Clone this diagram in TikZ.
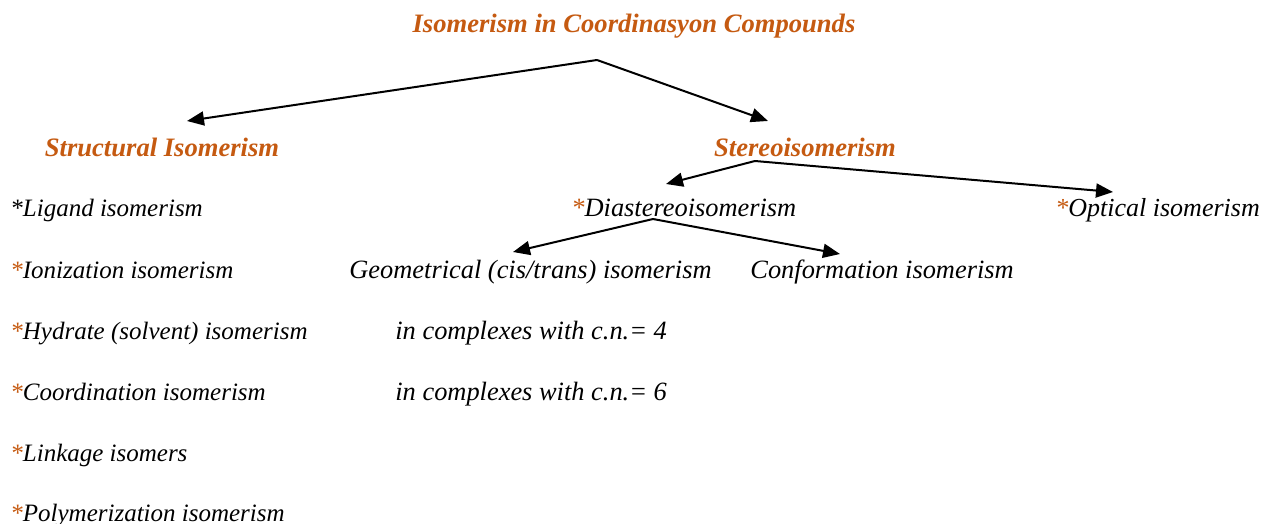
\documentclass[tikz,border=0pt]{standalone}
\usepackage{fontspec}
\setmainfont{Liberation Serif}
\usetikzlibrary{arrows.meta}
\definecolor{orng}{HTML}{C55A11}
\newcommand{\ostar}{{\color{orng}*}}
\begin{document}
\begin{tikzpicture}[x=0.5pt,y=-0.5pt,
  lbl/.style={inner sep=0pt,anchor=base west,font=\fontsize{12.5}{14}\selectfont\itshape},
  rlbl/.style={lbl,font=\fontsize{13.2}{15}\selectfont\itshape},
  head/.style={inner sep=0pt,anchor=base,text=orng,font=\fontsize{13.3}{15}\selectfont\bfseries\itshape},
  conn/.style={line width=1pt,-{Triangle[length=8.5pt,width=7pt]}}]
\useasboundingbox (0,0) rectangle (1263,524);
% headings
\node[head] (title) at (634,33) {Isomerism in Coordinasyon Compounds};
\node[head] (struct) at (162,156) {Structural Isomerism};
\node[head] (stereo) at (805,156) {Stereoisomerism};
% left column
\node[lbl] (lig) at (10,216) {*Ligand isomerism};
\node[lbl] (ion) at (10,278) {\ostar Ionization isomerism};
\node[lbl] (hyd) at (10,339) {\ostar Hydrate (solvent) isomerism};
\node[lbl] (coord) at (10,400) {\ostar Coordination isomerism};
\node[lbl] (link) at (10,461) {\ostar Linkage isomers};
\node[lbl] (poly) at (10,521) {\ostar Polymerization isomerism};
% right part
\node[rlbl] (dia) at (571,216) {\ostar Diastereoisomerism};
\node[rlbl,font=\fontsize{13}{15}\selectfont\itshape] (opt) at (1055,216) {\ostar Optical isomerism};
\node[rlbl] (geo) at (349,278) {Geometrical (cis/trans) isomerism};
\node[rlbl] (conf) at (750,278) {Conformation isomerism};
\node[rlbl] (cn4) at (395,339) {in complexes with c.n.= 4};
\node[rlbl] (cn6) at (395,400) {in complexes with c.n.= 6};
% connector points
\coordinate (j0) at (597,60);
\coordinate (t1) at (187,121);
\coordinate (t2) at (768,121);
\coordinate (j1) at (755,161);
\coordinate (t3) at (666,184);
\coordinate (t4) at (1113,192);
\coordinate (j2) at (653,219);
\coordinate (t5) at (513,252);
\coordinate (t6) at (840,254);
\draw[conn] (j0) -- (t1);
\draw[conn] (j0) -- (t2);
\draw[conn] (j1) -- (t3);
\draw[conn] (j1) -- (t4);
\draw[conn] (j2) -- (t5);
\draw[conn] (j2) -- (t6);
\end{tikzpicture}
\end{document}
